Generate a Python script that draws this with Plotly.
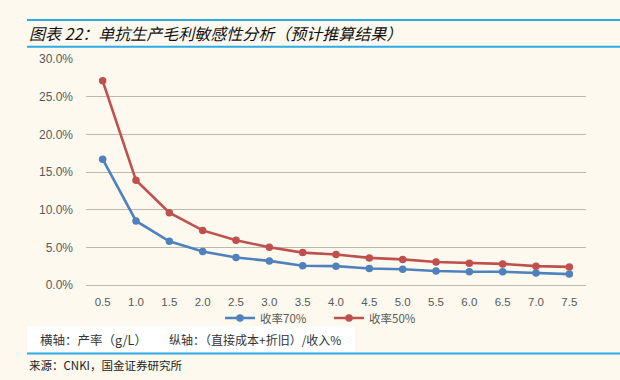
import plotly.graph_objects as go

# ---- data ----
yield_labels = ["0.5", "1.0", "1.5", "2.0", "2.5", "3.0", "3.5", "4.0",
                "4.5", "5.0", "5.5", "6.0", "6.5", "7.0", "7.5"]
recovery_70 = [0.167, 0.085, 0.058, 0.0445, 0.0365, 0.032, 0.0255, 0.025,
               0.022, 0.021, 0.0185, 0.0175, 0.0175, 0.016, 0.0145]
recovery_50 = [0.271, 0.139, 0.096, 0.0725, 0.0595, 0.050, 0.043, 0.0405,
               0.036, 0.034, 0.0305, 0.029, 0.028, 0.025, 0.024]
series_names = ["收率70%", "收率50%"]
y_ticks = [0, 0.05, 0.10, 0.15, 0.20, 0.25, 0.30]

title_text = "图表 22：单抗生产毛利敏感性分析（预计推算结果）"
note_x = "横轴：产率（g/L）"
note_y = "纵轴：（直接成本+折旧）/收入%"
source_text = "来源：CNKI，国金证券研究所"

BG = "#FDF9EF"
BLUE = "#4F81BD"
RED = "#C0504D"
LINE_BLUE = "#2EAAE6"
FONT = "Liberation Sans, Arial, Noto Sans CJK SC, sans-serif"
CJK = "Noto Sans CJK SC, sans-serif"

# plot-area pixel geometry
L, R, T, B = 86, 586, 59, 285
W, H = 620, 380


def px(x):
    return (x - L) / (R - L)


def py(y):
    return (B - y) / (B - T)


fig = go.Figure()
for name, vals, col in [(series_names[0], recovery_70, BLUE),
                        (series_names[1], recovery_50, RED)]:
    fig.add_trace(go.Scatter(
        x=yield_labels, y=vals, name=name, mode="lines+markers",
        line=dict(color=col, width=2.6),
        marker=dict(color=col, size=7.5, symbol="circle"),
    ))

fig.update_layout(
    width=W, height=H,
    paper_bgcolor=BG, plot_bgcolor=BG,
    margin=dict(l=L, r=W - R, t=T, b=H - B, autoexpand=False),
    showlegend=True,
    legend=dict(orientation="h", xref="container", yref="container",
                x=220 / W, xanchor="left", y=1 - 318 / H, yanchor="middle",
                font=dict(family=CJK, size=11.5, color="#595959"),
                bgcolor="rgba(0,0,0,0)", itemwidth=30, tracegroupgap=0,
                entrywidth=64),
    font=dict(family=FONT, color="#595959"),
)
fig.update_xaxes(type="category", showgrid=False, showline=False, ticks="",
                 tickfont=dict(size=11.5, color="#595959", family=FONT),
                 ticklabelstandoff=8, range=[-0.5, 14.5], zeroline=False)
fig.update_yaxes(range=[0, 0.30], tickvals=y_ticks, tickformat=".1%",
                 showgrid=True, gridcolor="#BDB9B0", gridwidth=1.2,
                 zeroline=True, zerolinecolor="#BDB9B0", zerolinewidth=1.2,
                 showline=False, ticks="",
                 tickfont=dict(size=12, color="#595959", family=FONT),
                 ticklabelstandoff=12)

shapes = [
    dict(type="line", xref="paper", yref="paper", x0=px(27), x1=px(620),
         y0=py(20), y1=py(20), line=dict(color=LINE_BLUE, width=2)),
    dict(type="line", xref="paper", yref="paper", x0=px(27), x1=px(620),
         y0=py(46.7), y1=py(46.7), line=dict(color=LINE_BLUE, width=2)),
    dict(type="rect", xref="paper", yref="paper", x0=px(27), x1=px(355),
         y0=py(352), y1=py(326), fillcolor="white", line=dict(width=0),
         layer="below"),
    dict(type="line", xref="paper", yref="paper", x0=px(27), x1=px(620),
         y0=py(353.5), y1=py(353.5), line=dict(color=LINE_BLUE, width=2)),
]
fig.update_layout(shapes=shapes)

annos = [
    dict(text="<i>" + title_text + "</i>", x=px(27), y=py(33), xref="paper",
         yref="paper", xanchor="left", yanchor="middle", showarrow=False,
         font=dict(family=CJK, size=16, color="#111111")),
    dict(text=note_x, x=px(38), y=py(339.5), xref="paper", yref="paper",
         xanchor="left", yanchor="middle", showarrow=False,
         font=dict(family=CJK, size=12.5, color="#333333")),
    dict(text=note_y, x=px(167), y=py(339.5), xref="paper", yref="paper",
         xanchor="left", yanchor="middle", showarrow=False,
         font=dict(family=CJK, size=12, color="#333333")),
    dict(text=source_text, x=px(27), y=py(364.5), xref="paper", yref="paper",
         xanchor="left", yanchor="middle", showarrow=False,
         font=dict(family=CJK, size=11.5, color="#222222")),
]
fig.update_layout(annotations=annos)

fig.write_html("out.html", config={"displayModeBar": False},
               post_script="document.body.style.margin='0';"
                           "document.body.style.background='" + BG + "';")
